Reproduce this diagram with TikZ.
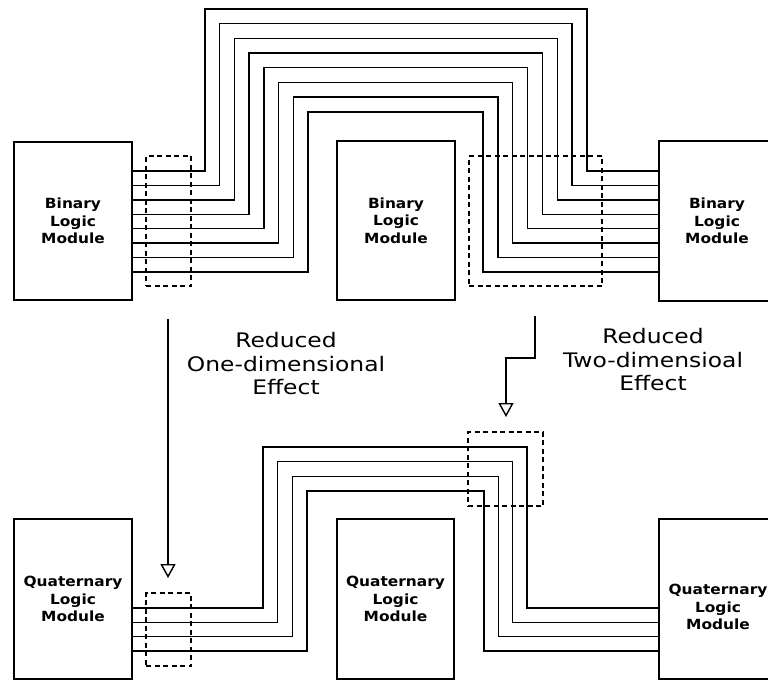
\documentclass[tikz,border=0pt]{standalone}
\usepackage{fontspec}
\setmainfont{DejaVu Sans}
\newfontfamily\modfont[FakeStretch=1.1]{DejaVu Sans}
\newfontfamily\fxfont[FakeStretch=1.17]{DejaVu Sans}
\usetikzlibrary{arrows.meta}
\begin{document}
\begin{tikzpicture}[x=1pt,y=-1pt,
  modbox/.style={draw, line width=1.4pt, inner sep=0pt, align=center,
    font=\modfont\fontsize{14}{17.5}\selectfont\bfseries},
  modtext/.style={inner sep=0pt, align=center, font=\modfont\fontsize{14}{17.5}\selectfont\bfseries},
  wire/.style={line width=1.4pt},
  dashbox/.style={draw, line width=1.4pt, dash pattern=on 5pt off 3.5pt, inner sep=0pt},
  fx/.style={inner sep=0pt, align=center, font=\fxfont\fontsize{20}{23.5}\selectfont},
  flow/.style={line width=1.4pt, -{Triangle[open, width=15pt, length=14pt]}}]
\useasboundingbox (0,0) rectangle (768,682);

% ---- top row: binary modules
\node[modbox, minimum width=118pt, minimum height=158pt] (bl) at (73,221) {Binary\\Logic\\Module};
\node[modbox, minimum width=118pt, minimum height=159pt] (bm) at (396,220.5) {Binary\\Logic\\Module};
\node[modbox, minimum width=116pt, minimum height=160pt] (br) at (717,221) {Binary\\Logic\\Module};

\foreach \i in {0,...,7}{
  \pgfmathsetmacro\wy{171+14.43*\i}
  \pgfmathsetmacro\wl{205+14.7*\i}
  \pgfmathsetmacro\wt{9+14.7*\i}
  \pgfmathsetmacro\wr{587-14.86*\i}
  \coordinate (bw\i) at (0,\wy);
  \draw[wire] (bl.east |- bw\i) -| (\wl,\wt) -| (\wr,\wy) -- (br.west |- bw\i);
}
\node[dashbox, minimum width=45pt, minimum height=130pt] (d1) at (168.5,221) {};
\node[dashbox, minimum width=133pt, minimum height=130pt] (d2) at (535.5,221) {};

% ---- bottom row: quaternary modules
\node[modbox, minimum width=118pt, minimum height=160pt] (ql) at (73,599) {Quaternary\\Logic\\Module};
\node[modbox, minimum width=117pt, minimum height=160pt] (qm) at (395.5,599) {Quaternary\\Logic\\Module};
\node[modbox, minimum width=118pt, minimum height=160pt] (qr) at (718,599) {};
\node[modtext] (qrt) at (718,607) {Quaternary\\Logic\\Module};

\foreach \i in {0,...,3}{
  \pgfmathsetmacro\wy{608+14.33*\i}
  \pgfmathsetmacro\wl{263+14.67*\i}
  \pgfmathsetmacro\wt{447+14.67*\i}
  \pgfmathsetmacro\wr{527-14.33*\i}
  \coordinate (qw\i) at (0,\wy);
  \draw[wire] (ql.east |- qw\i) -| (\wl,\wt) -| (\wr,\wy) -- (qr.west |- qw\i);
}
\node[dashbox, minimum width=45pt, minimum height=73pt] (d3) at (168.5,629.5) {};
\node[dashbox, minimum width=75pt, minimum height=74pt] (d4) at (505.5,469) {};

% ---- reduction arrows and labels
\coordinate (a1s) at (168,319);
\coordinate (a1e) at (168,578);
\draw[flow] (a1s) -- (a1e);
\coordinate (a2s) at (535,316);
\coordinate (a2e) at (506,417);
\draw[flow] (a2s) -- (535,358) -| (a2e);

\node[fx] (e1) at (286,364) {Reduced\\One-dimensional\\Effect};
\node[fx] (e2) at (653,360) {Reduced\\Two-dimensioal\\Effect};
\end{tikzpicture}
\end{document}
